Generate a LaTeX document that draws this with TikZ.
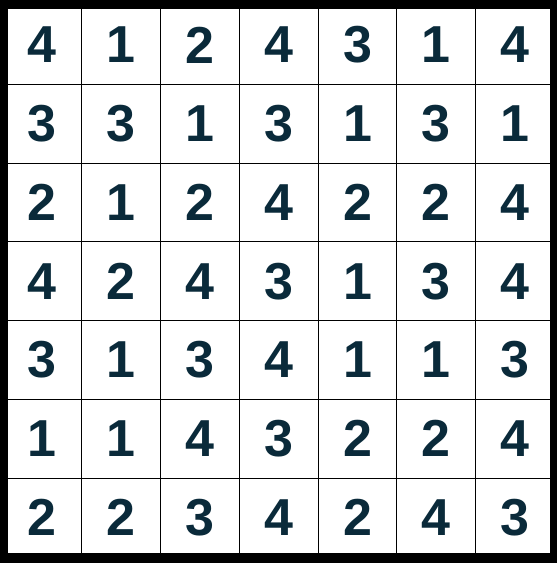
\documentclass[tikz,border=0pt]{standalone}
\usepackage{fontspec}
\setmainfont{Liberation Sans}
\definecolor{digit}{RGB}{10,42,58}
\tikzset{
  cellnum/.style={font=\fontsize{52}{52}\selectfont\bfseries, text=digit, inner sep=0pt, anchor=center},
  gridline/.style={draw=black, line width=1.1pt}
}
\begin{document}
\begin{tikzpicture}[x=1pt,y=-1pt]
\useasboundingbox (0,0) rectangle (557,563);
\fill[black] (0,0) rectangle (557,563);
\fill[white] (8,9) rectangle (550,553);
\foreach \i in {1,...,6} {
  \draw[gridline] ({2.9+78.8*\i},9) -- ({2.9+78.8*\i},553);
  \draw[gridline] (8,{5.55+78.75*\i}) -- (550,{5.55+78.75*\i});
}
\foreach \row [count=\r from 0] in {
  {4,1,2,4,3,1,4},
  {3,3,1,3,1,3,1},
  {2,1,2,4,2,2,4},
  {4,2,4,3,1,3,4},
  {3,1,3,4,1,1,3},
  {1,1,4,3,2,2,4},
  {2,2,3,4,2,4,3}} {
  \foreach \v [count=\c from 0] in \row {
    \node[cellnum] (n-\r-\c) at ({2.9+78.8*(\c+0.5)},{5.55+78.75*(\r+0.5)}) {\v};
  }
}
\end{tikzpicture}
\end{document}
